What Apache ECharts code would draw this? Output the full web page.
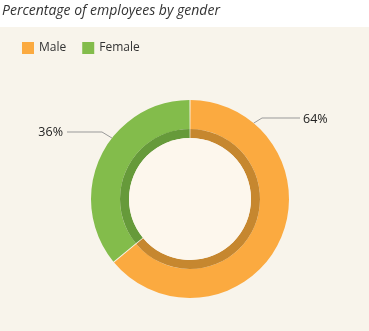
<!DOCTYPE html>
<html><head><meta charset="utf-8">
<script src="https://cdn.jsdelivr.net/npm/echarts@6/dist/echarts.min.js"></script>
<style>html,body{margin:0;padding:0;background:#f8f4eb}#c{width:369px;height:331px}</style>
</head><body><div id="c"></div>
<script>
const categories = ['Male', 'Female'];
const values = [64, 36];
const colors = ['#fbaa40', '#83bc4b'];
const darkColors = ['#c6872f', '#669a3a'];

const chart = echarts.init(document.getElementById('c'), null, {renderer: 'canvas'});
const center = [190, 199];
const R = 99;
function pt(angDegFromTopCW, r) {
  const a = angDegFromTopCW * Math.PI / 180;
  return [center[0] + r * Math.sin(a), center[1] - r * Math.cos(a)];
}
chart.setOption({
  backgroundColor: '#f8f4eb',
  animation: false,
  graphic: [{type: 'rect', shape: {x: 0, y: 0, width: 369, height: 27}, style: {fill: '#ffffff'}, z: -10}],
  title: {
    text: 'Percentage of employees by gender', left: 2, top: 4, padding: 0,
    textStyle: {fontFamily: 'Open Sans', fontStyle: 'italic', fontWeight: 'normal', fontSize: 14, color: '#333'}
  },
  legend: {
    data: categories, left: 17, top: 37, itemWidth: 12, itemHeight: 12, itemGap: 16, icon: 'rect',
    textStyle: {fontFamily: 'Open Sans', fontSize: 12, color: '#333'}
  },
  series: [
    {
      type: 'pie', center: center, radius: [70, R], startAngle: 90, clockwise: true, padAngle: 0.6,
      data: categories.map((c, i) => ({name: c, value: values[i], itemStyle: {color: colors[i]}})),
      label: {show: true, position: 'outside', formatter: '{c}%', fontFamily: 'Open Sans', fontSize: 12.5, color: '#222'},
      labelLine: {show: true, lineStyle: {color: '#999', width: 1}},
      labelLayout: function (p) {
        if (p.dataIndex === 0) {
          const s = pt(40, R);
          return {x: 303, y: 119, align: 'left', verticalAlign: 'middle',
            labelLinePoints: [s, [262, 118], [300, 118]]};
        }
        const s = pt(-52, R);
        return {x: 63, y: 132, align: 'right', verticalAlign: 'middle',
          labelLinePoints: [s, [102, 132], [67, 132]]};
      },
      emphasis: {disabled: true}
    },
    {
      type: 'pie', center: center, radius: [61, 70], startAngle: 90, clockwise: true, padAngle: 0.6, silent: true,
      data: categories.map((c, i) => ({name: c, value: values[i], itemStyle: {color: darkColors[i]}})),
      label: {show: false}, labelLine: {show: false}, emphasis: {disabled: true}
    },
    {
      type: 'pie', center: center, radius: [0, 61], silent: true,
      data: [{name: 'bg', value: 1, itemStyle: {color: '#fdf7ed'}}],
      label: {show: false}, labelLine: {show: false}, emphasis: {disabled: true}
    }
  ]
});
</script></body></html>
